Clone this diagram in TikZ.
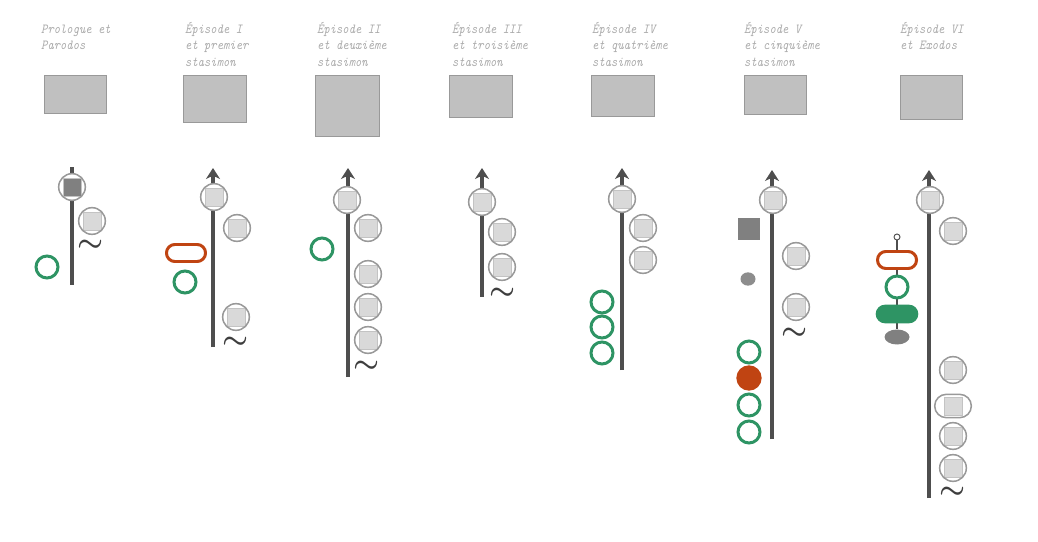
\documentclass[tikz,border=0pt]{standalone}
\usepackage{fontspec}
\newfontfamily\titlefont[FakeStretch=0.87]{Latin Modern Mono}
\usetikzlibrary{arrows.meta}
\usetikzlibrary{backgrounds}
\usetikzlibrary{shapes.geometric}
\tikzset{>={Stealth[length=0.33cm,width=0.42cm,inset=0.1cm]}}
\definecolor{boxgray}{RGB}{192,192,192}
\definecolor{rimgray}{RGB}{153,153,153}
\definecolor{sqgray}{RGB}{217,217,217}
\definecolor{sqedge}{RGB}{195,195,195}
\definecolor{darksq}{RGB}{128,128,128}
\definecolor{linegray}{RGB}{78,78,78}
\definecolor{headgray}{RGB}{170,170,170}
\definecolor{chorgreen}{RGB}{46,148,100}
\definecolor{chororange}{RGB}{192,68,18}

\tikzset{
  headtext/.style={anchor=north west, inner sep=0pt, align=left, text=headgray,
    font=\titlefont\itshape\fontsize{11.8}{14}\selectfont},
  headbox/.style={fill=boxgray, draw=rimgray, line width=0.8pt},
  timeline/.style={draw=linegray, line width=3.4pt},
  actor/.style={circle, draw=rimgray, line width=1.3pt, fill=white,
    minimum size=0.8cm, inner sep=0pt,
    path picture={\draw[sqedge, sharp corners, line width=0.5pt, fill=#1]
      ([shift={(-0.27cm,-0.27cm)}]path picture bounding box.center) rectangle
      ([shift={(0.27cm,0.27cm)}]path picture bounding box.center);}},
  actor/.default=sqgray,
  actorpill/.style={actor, rectangle, rounded corners=0.35cm,
    minimum width=1.1cm, minimum height=0.7cm},
  chorus/.style={circle, draw=chorgreen, line width=2.55pt, fill=white,
    minimum size=0.66cm, inner sep=0pt},
  chorusfull/.style={circle, fill=chororange, minimum size=0.76cm, inner sep=0pt},
  leaderpill/.style={rectangle, rounded corners=0.25cm, draw=chororange,
    line width=2.55pt, fill=white, minimum width=1.17cm, minimum height=0.51cm,
    inner sep=0pt},
  greenpill/.style={rectangle, rounded corners=0.28cm, fill=chorgreen,
    minimum width=1.28cm, minimum height=0.56cm, inner sep=0pt},
  propsq/.style={rectangle, fill=darksq, minimum size=0.66cm, inner sep=0pt},
  propdot/.style={ellipse, fill=darksq!90!white, minimum width=0.45cm,
    minimum height=0.4cm, inner sep=0pt},
  knob/.style={circle, draw=linegray, line width=0.8pt, fill=white,
    minimum size=0.18cm, inner sep=0pt},
  swung/.style={inner sep=0pt, text=linegray!80!black,
    font=\fontsize{24}{24}\selectfont\boldmath}
}

\begin{document}
\begin{tikzpicture}[x=0.03cm,y=-0.03cm]
  \useasboundingbox (0,0) rectangle (1038,542);
  % titles and masks
  \foreach \x/\t [count=\i] in {41/{Prologue et\\Parodos},
      185/{Épisode I\\et premier\\stasimon},
      317/{Épisode II\\et deuxième\\stasimon},
      452/{Épisode III\\et troisième\\stasimon},
      592/{Épisode IV\\et quatrième\\stasimon},
      744/{Épisode V\\et cinquième\\stasimon},
      900/{Épisode VI\\et Exodos}}{
    \node[headtext] (title\i) at (\x,21.5) {\strut\t};
  }
  \foreach \l/\r/\b in {44/106/113, 183/246/122, 315/379/136, 449/512/117,
      591/654/116, 744/806/114, 900/962/119}{
    \draw[headbox] (\l,75) rectangle (\r,\b);
  }
  % ends of the time lines
  \foreach \x/\t/\b [count=\i] in {72/167/285, 213/168/347, 348/168/377,
      482/168/297, 622/168/370, 772/170/439, 929/170/498}{
    \coordinate (top\i) at (\x,\t);
    \coordinate (bot\i) at (\x,\b);
  }

  % prologue
  \node[actor=darksq] (a11) at (72,187) {};
  \node[actor] (a12) at (92,221) {};
  \node[swung] (w1) at (91,246) {$\sim$};
  \node[chorus] (g11) at (47,267) {};
  % episode I
  \node[actor] (a21) at (214,197) {};
  \node[actor] (a22) at (237,228) {};
  \node[actor] (a23) at (236,317) {};
  \node[swung] (w2) at (236,343) {$\sim$};
  \node[leaderpill] (o21) at (186,253) {};
  \node[chorus] (g21) at (185,282) {};
  % episode II
  \node[actor] (a31) at (347,200) {};
  \foreach \y [count=\j from 2] in {228,274,307,340}
    \node[actor] (a3\j) at (368,\y) {};
  \node[swung] (w3) at (367,367) {$\sim$};
  \node[chorus] (g31) at (322,249) {};
  % episode III
  \node[actor] (a41) at (482,202) {};
  \node[actor] (a42) at (502,232) {};
  \node[actor] (a43) at (502,267) {};
  \node[swung] (w4) at (503,294) {$\sim$};
  % episode IV
  \node[actor] (a51) at (622,199) {};
  \node[actor] (a52) at (643,228) {};
  \node[actor] (a53) at (643,260) {};
  \foreach \y [count=\j] in {302,327,353}
    \node[chorus] (g5\j) at (602,\y) {};
  % episode V
  \node[actor] (a61) at (773,200) {};
  \node[propsq] (p61) at (749,229) {};
  \node[actor] (a62) at (796,256) {};
  \node[propdot] (p62) at (748,279) {};
  \node[actor] (a63) at (796,307) {};
  \node[swung] (w6) at (795,334) {$\sim$};
  \node[chorus] (g61) at (749,352) {};
  \node[chorusfull] (o61) at (749,378) {};
  \node[chorus] (g62) at (749,405) {};
  \node[chorus] (g63) at (749,432) {};
  % episode VI and exodos
  \node[actor] (a71) at (930,200) {};
  \node[actor] (a72) at (953,231) {};
  \node[knob] (k71) at (897,237) {};
  \node[leaderpill] (o71) at (897,260) {};
  \node[chorus] (g71) at (897,287) {};
  \node[greenpill] (g72) at (897,314) {};
  \node[ellipse, fill=darksq, minimum width=0.75cm, minimum height=0.45cm,
    inner sep=0pt] (e71) at (897,337) {};
  \node[actor] (a73) at (953,370) {};
  \node[actorpill] (a74) at (953,406) {};
  \node[actor] (a75) at (953,436) {};
  \node[actor] (a76) at (953,468) {};
  \node[swung] (w7) at (953,493) {$\sim$};

  \begin{scope}[on background layer]
    \draw[timeline] (bot1) -- (top1);
    \foreach \i in {2,...,7}
      \draw[timeline,->] (bot\i) -- (top\i);
    \draw[linegray, line width=2.2pt] (k71) -- (e71);
  \end{scope}
\end{tikzpicture}
\end{document}
